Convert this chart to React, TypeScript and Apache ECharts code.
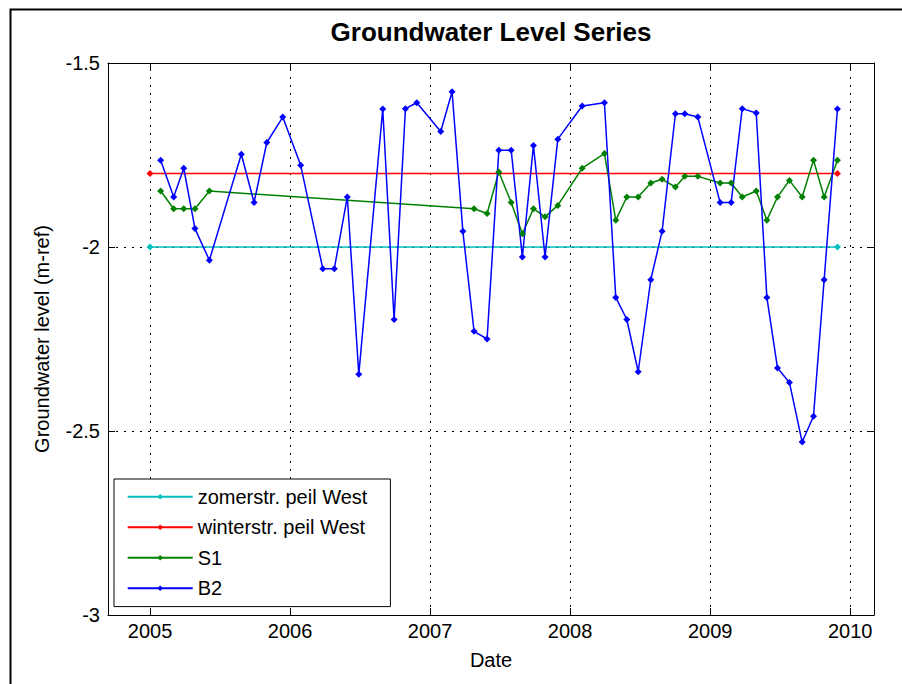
import React, { useEffect, useRef } from "react";
import * as echarts from "echarts";

// ---- data (decimal years, groundwater level in m-ref) ----
const B2_DATES = [
  2005.076, 2005.169, 2005.241, 2005.321, 2005.424, 2005.652, 2005.743, 2005.834, 2005.948,
  2006.076, 2006.234, 2006.316, 2006.409, 2006.491, 2006.662, 2006.743, 2006.824, 2006.905,
  2007.076, 2007.157, 2007.234, 2007.314, 2007.407, 2007.491, 2007.579, 2007.659, 2007.738,
  2007.821, 2007.912, 2008.086, 2008.245, 2008.326, 2008.405, 2008.486, 2008.576, 2008.657,
  2008.752, 2008.819, 2008.912, 2009.071, 2009.15, 2009.229, 2009.329, 2009.405, 2009.481,
  2009.566, 2009.657, 2009.738, 2009.814, 2009.909,
];
const B2_VALUES = [
  -1.764, -1.864, -1.786, -1.95, -2.036, -1.748, -1.879, -1.716, -1.647,
  -1.778, -2.059, -2.059, -1.864, -2.346, -1.625, -2.197, -1.624, -1.608,
  -1.686, -1.578, -1.957, -2.229, -2.25, -1.737, -1.737, -2.027, -1.724,
  -2.027, -1.707, -1.617, -1.608, -2.137, -2.197, -2.339, -2.089, -1.957,
  -1.638, -1.638, -1.647, -1.879, -1.879, -1.624, -1.636, -2.137, -2.329,
  -2.368, -2.53, -2.46, -2.089, -1.625,
];
const S1_DATES = [
  2005.076, 2005.169, 2005.241, 2005.321, 2005.424, 2007.314, 2007.407,
  2007.491, 2007.579, 2007.659, 2007.738, 2007.821, 2007.912, 2008.086, 2008.245,
  2008.326, 2008.405, 2008.486, 2008.576, 2008.657, 2008.752, 2008.819, 2008.912,
  2009.071, 2009.15, 2009.229, 2009.329, 2009.405, 2009.481, 2009.566, 2009.657,
  2009.738, 2009.814, 2009.909,
];
const S1_VALUES = [
  -1.848, -1.896, -1.896, -1.896, -1.848, -1.896, -1.909,
  -1.796, -1.879, -1.964, -1.896, -1.918, -1.887, -1.786, -1.746,
  -1.927, -1.864, -1.864, -1.826, -1.816, -1.837, -1.808, -1.808,
  -1.826, -1.826, -1.864, -1.848, -1.927, -1.864, -1.819, -1.864,
  -1.764, -1.864, -1.764,
];
const PEIL_DATES = [2005.0, 2009.909];
const ZOMER_VALUES = [-2.0, -2.0];
const WINTER_VALUES = [-1.8, -1.8];
const YEAR_TICKS = [2005, 2006, 2007, 2008, 2009, 2010];
const LEVEL_GRID = [-2, -2.5];
const SERIES_NAMES = ["zomerstr. peil West", "winterstr. peil West", "S1", "B2"];

const FONT = "'Liberation Sans', Arial, Helvetica, sans-serif";

function pairs(xs: number[], ys: number[]) {
  return xs.map((x, i) => [x, ys[i]]);
}

export default function App() {
  const ref = useRef<HTMLDivElement>(null);

  useEffect(() => {
    const chart = echarts.init(ref.current!, null, { renderer: "svg" });

    const lineSeries = (name: string, color: string, xs: number[], ys: number[], extra: any = {}) => ({
      name,
      type: "line",
      data: pairs(xs, ys),
      xAxisIndex: 0,
      yAxisIndex: 0,
      symbol: "diamond",
      symbolSize: 7,
      showSymbol: true,
      lineStyle: { color, width: 1.5 },
      itemStyle: { color },
      emphasis: { disabled: true },
      z: 3,
      ...extra,
    });

    const tickStyle = { show: true, inside: true, length: 7, lineStyle: { color: "#000", width: 1 } };
    const lineAxis = { show: true, onZero: false, lineStyle: { color: "#000", width: 1 } };

    const option: any = {
      animation: false,
      backgroundColor: "#fff",
      title: {
        text: "Groundwater Level Series",
        left: 491,
        top: 19,
        textAlign: "center",
        padding: 0,
        textStyle: { fontSize: 26, fontWeight: "bold", fontFamily: FONT, color: "#000" },
      },
      legend: {
        orient: "vertical",
        left: 114,
        top: 479,
        data: SERIES_NAMES,
        itemWidth: 65,
        itemHeight: 7,
        itemGap: 10.5,
        padding: [7.7, 23, 8.4, 12.7],
        borderColor: "#000",
        borderWidth: 1,
        backgroundColor: "#fff",
        selectedMode: false,
        textStyle: { fontSize: 20, fontFamily: FONT, color: "#000", lineHeight: 20 },
      },
      grid: { left: 108, top: 63, width: 766, height: 552, containLabel: false },
      xAxis: [
        {
          type: "value",
          position: "bottom",
          min: 2004.7,
          max: 2010.17,
          axisLine: lineAxis,
          axisTick: { ...tickStyle, customValues: YEAR_TICKS },
          axisLabel: {
            customValues: YEAR_TICKS,
            formatter: (v: number) => String(v),
            fontSize: 20,
            fontFamily: FONT,
            color: "#000",
            margin: 6,
          },
          splitLine: { show: false },
          name: "Date",
          nameLocation: "middle",
          nameGap: 35,
          nameTextStyle: { fontSize: 20, fontFamily: FONT, color: "#000" },
        },
        {
          type: "value",
          position: "top",
          min: 2004.7,
          max: 2010.17,
          axisLine: lineAxis,
          axisTick: { ...tickStyle, customValues: YEAR_TICKS },
          axisLabel: { show: false },
          splitLine: { show: false },
        },
      ],
      yAxis: [
        {
          type: "value",
          position: "left",
          min: -3,
          max: -1.5,
          interval: 0.5,
          axisLine: lineAxis,
          axisTick: tickStyle,
          axisLabel: {
            formatter: (v: number) => String(v),
            fontSize: 20,
            fontFamily: FONT,
            color: "#000",
            margin: 8,
          },
          splitLine: { show: false },
          name: "Groundwater level (m-ref)",
          nameLocation: "middle",
          nameRotate: 90,
          nameGap: 56,
          nameTextStyle: { fontSize: 20, fontFamily: FONT, color: "#000" },
        },
        {
          type: "value",
          position: "right",
          min: -3,
          max: -1.5,
          interval: 0.5,
          axisLine: lineAxis,
          axisTick: tickStyle,
          axisLabel: { show: false },
          splitLine: { show: false },
        },
      ],
      series: [
        lineSeries(SERIES_NAMES[0], "#00bfbf", PEIL_DATES, ZOMER_VALUES, {
          markLine: {
            silent: true,
            z: 1,
            symbol: ["none", "none"],
            label: { show: false },
            emphasis: { disabled: true },
            lineStyle: { color: "#000", type: [2, 6], width: 1 },
            data: [
              ...YEAR_TICKS.map((x) => ({ xAxis: x })),
              ...LEVEL_GRID.map((y) => ({ yAxis: y })),
            ],
          },
        }),
        lineSeries(SERIES_NAMES[1], "#ff0000", PEIL_DATES, WINTER_VALUES),
        lineSeries(SERIES_NAMES[2], "#008000", S1_DATES, S1_VALUES),
        lineSeries(SERIES_NAMES[3], "#0000ff", B2_DATES, B2_VALUES),
      ],
      graphic: [
        {
          type: "rect",
          silent: true,
          z: 100,
          shape: { x: 10.5, y: 9.5, width: 1000, height: 1000 },
          style: { fill: "none", stroke: "#000", lineWidth: 2 },
        },
      ],
    };

    chart.setOption(option);
    return () => chart.dispose();
  }, []);

  return (
    <div
      ref={ref}
      style={{ position: "fixed", left: 0, top: 0, width: 902, height: 684, background: "#fff" }}
    />
  );
}
